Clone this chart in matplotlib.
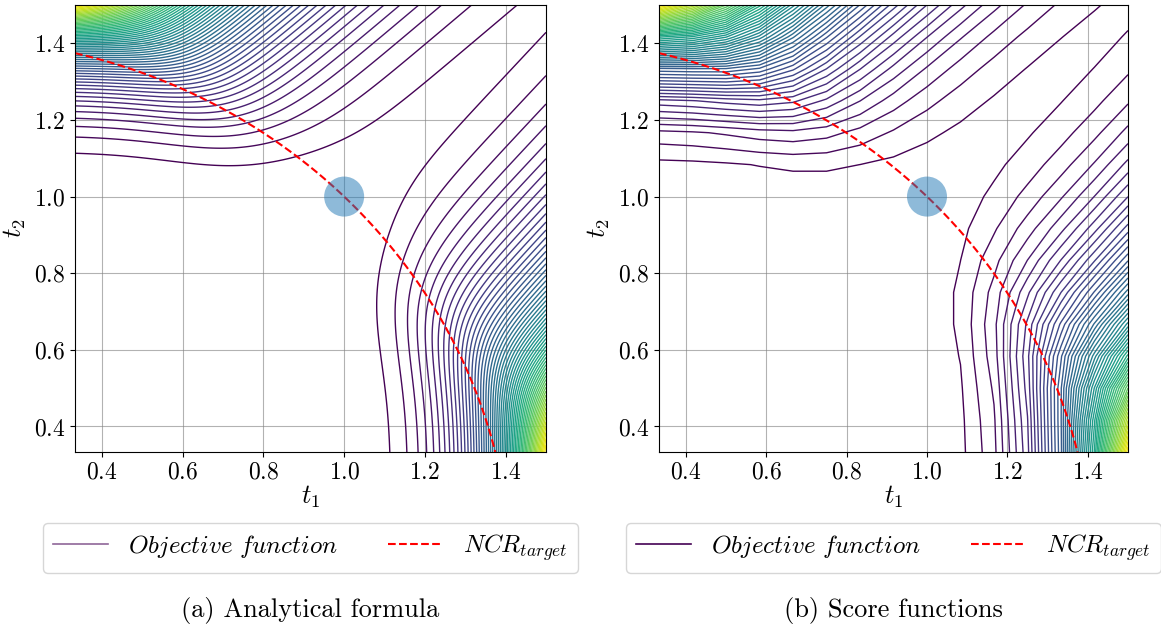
import numpy as np
import matplotlib.pyplot as plt
from matplotlib.lines import Line2D

plt.rcParams['font.family'] = 'cmr10'
plt.rcParams['mathtext.fontset'] = 'cm'
plt.rcParams['axes.formatter.use_mathtext'] = True

# --- values ---
t_lim = [1 / 3, 1.5]
ticks = [0.4, 0.6, 0.8, 1.0, 1.2, 1.4]
optimum = [1.0, 1.0]
ncr_target_r2 = 2.0          # NCR target curve: t1^2 + t2^2 = 2
captions = ['(a) Analytical formula', '(b) Score functions']
grid_points = [300, 15]      # analytical grid is fine, score grid is coarse
n_levels = [60, 60]

# objective shape per panel (floor, dip depth, dip centre, dip width,
# diagonal gain, diagonal slope, diagonal offset, softness, power)
floor = [0.85, 0.835]
dip = [0.04, 0.04]
dip_at = [0.75, 0.75]
dip_w = [0.25, 0.25]
diag_gain = [0.42, 0.42]
diag_slope = [0.89, 0.89]
diag_off = [0.1695, 0.175]
soft = [25, 25]
power = [4.7, 4.7]


def one_side(t1, t2, i):
    a = t2 - floor[i] + dip[i] * np.exp(-((t1 - dip_at[i]) / dip_w[i]) ** 2)
    b = diag_gain[i] * (t2 - diag_slope[i] * t1) + diag_off[i]
    f = -np.log(np.exp(-soft[i] * a) + np.exp(-soft[i] * b)) / soft[i]
    return np.clip(f, 0, None) ** power[i]


fig = plt.figure(figsize=(11.61, 6.34), dpi=100)
axes = [fig.add_axes([75 / 1161, 1 - 452 / 634, 471 / 1161, 447 / 634]),
        fig.add_axes([659 / 1161, 1 - 452 / 634, 469 / 1161, 447 / 634])]

for i, ax in enumerate(axes):
    t = np.linspace(t_lim[0], t_lim[1], grid_points[i])
    T1, T2 = np.meshgrid(t, t)
    Z = np.maximum(one_side(T1, T2, i), one_side(T2, T1, i))
    levels = np.linspace(0, Z.max(), n_levels[i] + 1)[1:]
    ax.contour(T1, T2, Z, levels=levels, cmap='viridis', linewidths=1.0)

    c1 = np.linspace(t_lim[0], np.sqrt(ncr_target_r2 - t_lim[0] ** 2), 200)
    ax.plot(c1, np.sqrt(ncr_target_r2 - c1 ** 2), 'r--', lw=1.5)
    ax.scatter([optimum[0]], [optimum[1]], s=830, color='tab:blue', alpha=0.5,
               edgecolors='none', zorder=3)

    ax.set_xlim(t_lim)
    ax.set_ylim(t_lim)
    ax.set_xticks(ticks)
    ax.set_yticks(ticks)
    ax.tick_params(labelsize=17)
    ax.grid(True, color='gray', lw=0.8, alpha=0.6)
    ax.set_xlabel(r'$t_1$', fontsize=19, labelpad=0)
    ax.set_ylabel(r'$t_2$', fontsize=19, labelpad=4)

    handles = [Line2D([], [], color=plt.cm.viridis(0.0), lw=1.2, alpha=0.6 if i == 0 else 1.0),
               Line2D([], [], color='red', ls='--', lw=1.5)]
    ax.legend(handles, [r'$Objective\ function$', r'$NCR_{target}$'],
              loc='upper center', bbox_to_anchor=(0.5, -0.13), ncol=2,
              fontsize=18, columnspacing=2.0, handlelength=2.2)

    pos = ax.get_position()
    fig.text(pos.x0 + pos.width / 2, 1 - 610 / 634, captions[i],
             ha='center', va='center', fontsize=19)

fig.savefig('out.png', dpi=100)
